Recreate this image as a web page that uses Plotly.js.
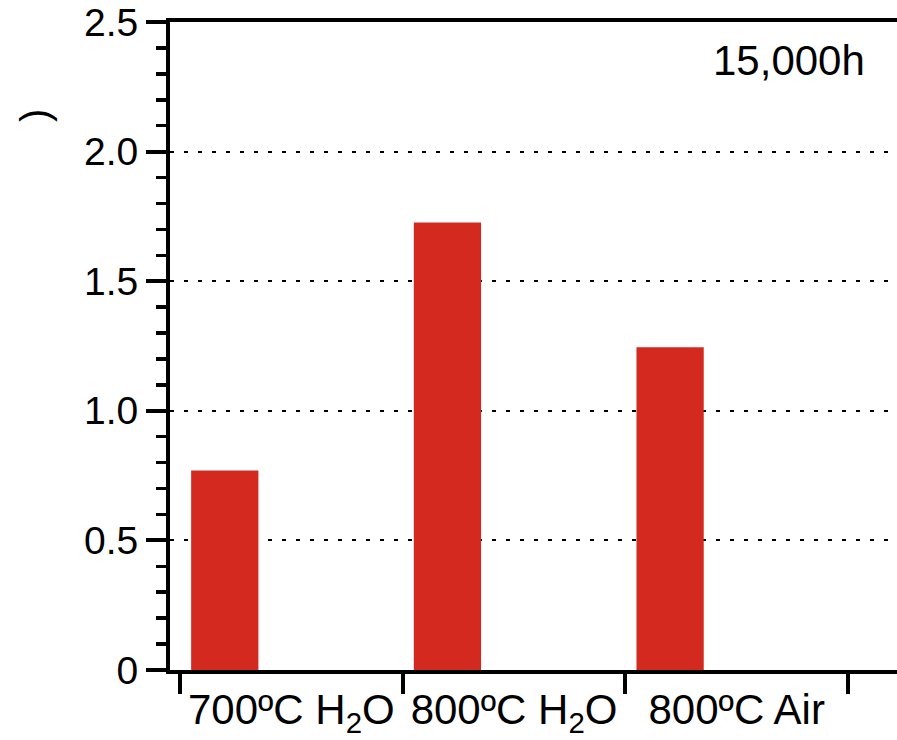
<!DOCTYPE html>
<html>
<head>
<meta charset="utf-8">
<script src="https://cdn.plot.ly/plotly-3.0.1.min.js"></script>
<style>html,body{margin:0;padding:0;background:#fff;}#chart{width:897px;height:740px;}</style>
</head>
<body>
<div id="chart"></div>
<script>
const categories = ["700ºC H<sub>2</sub>O", "800ºC H<sub>2</sub>O", "800ºC Air"];
const values = [0.77, 1.726, 1.245];
const yTickVals = [0, 0.5, 1.0, 1.5, 2.0, 2.5];
const yTickText = ["0", "0.5", "1.0", "1.5", "2.0", "2.5"];
const noteText = "15,000h";
const yLabelText = ")";

const FONT = "Liberation Sans, Arial, Helvetica, sans-serif";

const trace = {
  type: "bar",
  x: categories,
  y: values,
  width: 0.302,
  offset: -0.45,
  marker: {color: "#d3291f", line: {width: 0}},
  hoverinfo: "skip"
};

const layout = {
  width: 897,
  height: 740,
  margin: {l: 170, r: 0, t: 22, b: 70, pad: 0},
  paper_bgcolor: "#fff",
  plot_bgcolor: "#fff",
  showlegend: false,
  font: {family: FONT, color: "#000"},
  xaxis: {
    type: "category",
    range: [-0.545, 2.72],
    showline: true,
    linecolor: "#000",
    linewidth: 4,
    mirror: true,
    ticks: "outside",
    tickson: "boundaries",
    ticklen: 20,
    tickwidth: 4,
    tickcolor: "#000",
    tickfont: {family: FONT, size: 42, color: "#000"},
    showgrid: false,
    zeroline: false,
    fixedrange: true
  },
  yaxis: {
    range: [0, 2.5],
    tickmode: "array",
    tickvals: yTickVals,
    ticktext: yTickText,
    showline: true,
    linecolor: "#000",
    linewidth: 4,
    mirror: false,
    ticks: "outside",
    ticklen: 20,
    tickwidth: 4,
    tickcolor: "#000",
    tickfont: {family: FONT, size: 39, color: "#000"},
    showgrid: true,
    gridcolor: "#000",
    gridwidth: 2,
    griddash: "4px,10px",
    zeroline: false,
    minor: {
      tickmode: "linear",
      tick0: 0,
      dtick: 0.1,
      ticks: "outside",
      ticklen: 10,
      tickwidth: 3.5,
      tickcolor: "#000",
      showgrid: false
    },
    fixedrange: true
  },
  annotations: [
    {
      xref: "paper", yref: "paper",
      x: 0.9587, y: 0.941,
      xanchor: "right", yanchor: "middle",
      text: noteText, showarrow: false,
      font: {family: FONT, size: 42, color: "#000"}
    },
    {
      xref: "paper", yref: "paper",
      x: -0.1857, y: 0.8565,
      xanchor: "center", yanchor: "middle",
      text: yLabelText, textangle: -90, showarrow: false,
      font: {family: FONT, size: 40, color: "#000"}
    }
  ]
};

Plotly.newPlot("chart", [trace], layout, {displayModeBar: false, staticPlot: true});
</script>
</body>
</html>
